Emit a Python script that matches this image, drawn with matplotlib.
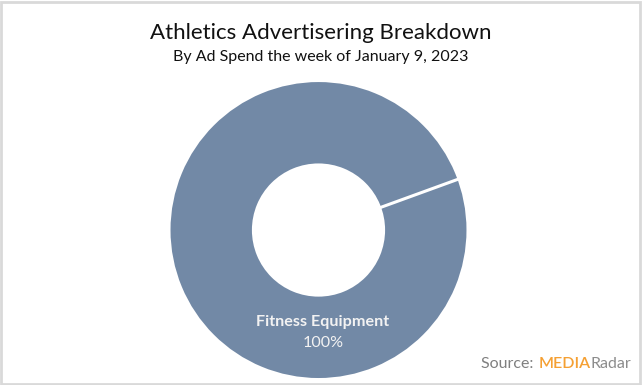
import matplotlib.pyplot as plt
import numpy as np

# data
categories = ["Fitness Equipment"]
shares = [100]
pct_labels = ["100%"]

plt.rcParams["font.family"] = ["Lato", "DejaVu Sans"]

fig = plt.figure(figsize=(6.42, 3.85), dpi=100)
fig.patch.set_facecolor("white")

# light grey frame around the chart area
fig.patches.append(plt.Rectangle((0.002, 0.003), 0.995, 0.993, transform=fig.transFigure,
                                 fill=False, edgecolor="#D9D9D9", linewidth=2))

ax = fig.add_axes([0.2656, 0.018, 0.461, 0.769])
ring_color = "#7289A6"
start = 20
inner = 0.45
wedges, _ = ax.pie(shares, radius=1, startangle=start, counterclock=True,
                   colors=[ring_color], wedgeprops=dict(width=1 - inner, edgecolor="white", linewidth=0))
# seam where the slice begins and ends
a = np.deg2rad(start)
ax.plot([inner * np.cos(a), np.cos(a)], [inner * np.sin(a), np.sin(a)], color="white", linewidth=2.2)
ax.set_xlim(-1, 1)
ax.set_ylim(-1, 1)
ax.set_aspect("equal")
ax.axis("off")

ax.text(0.03, -0.62, categories[0], ha="center", va="center", color="#F2F2F2",
        fontsize=11.6, fontweight="bold")
ax.text(0.03, -0.765, pct_labels[0], ha="center", va="center", color="#F2F2F2", fontsize=11.6)

fig.text(0.5, 0.915, "Athletics Advertisering Breakdown", ha="center", va="center",
         fontsize=16, color="#111111")
fig.text(0.5, 0.853, "By Ad Spend the week of January 9, 2023", ha="center", va="center",
         fontsize=11.5, color="#111111")

# source line, pieces placed one after another
renderer = fig.canvas.get_renderer()
x = 481
y = 0.045
for txt, col, w in [("Source: ", "#7F7F7F", "normal"), ("MEDIA", "#F5A033", "semibold"),
                    ("Radar", "#8C8C8C", "normal")]:
    t = fig.text(x / 642, y, txt, ha="left", va="baseline", fontsize=11.5, color=col, fontweight=w)
    x = t.get_window_extent(renderer).x1 + (1 if txt == "Source: " else 0)

fig.savefig("out.png", dpi=100)
